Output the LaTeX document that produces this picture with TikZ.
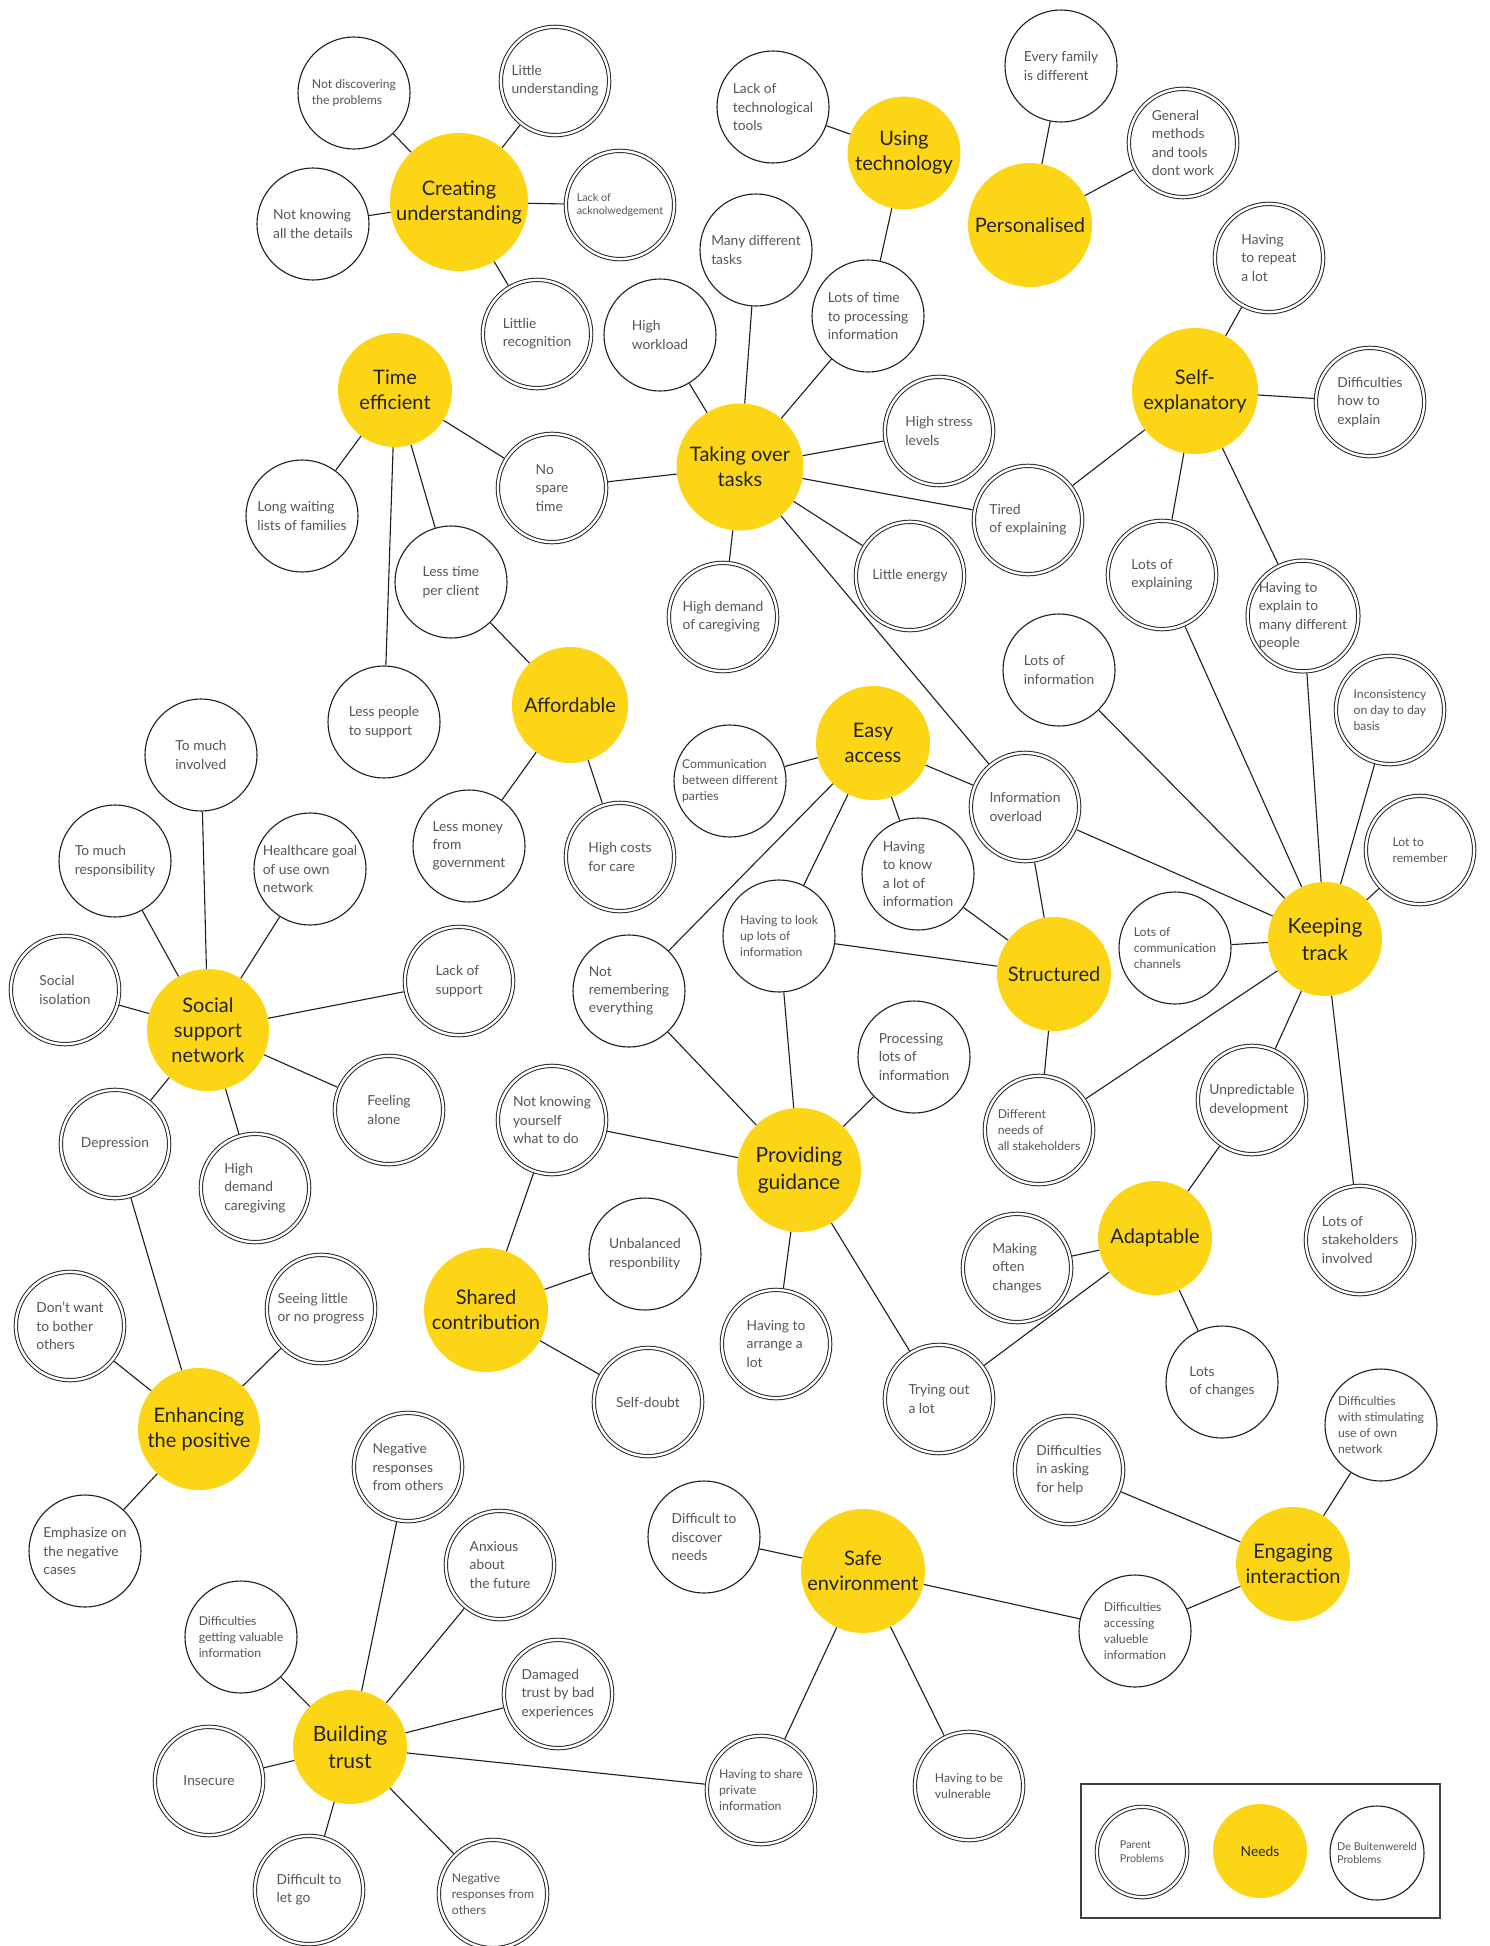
\documentclass[tikz,border=0pt]{standalone}
\usepackage{fontspec}
\setmainfont{Lato}
\definecolor{needy}{RGB}{252,214,22}
\definecolor{txtg}{RGB}{85,85,85}
\definecolor{txtd}{RGB}{35,35,30}
\definecolor{linec}{RGB}{30,30,30}
\tikzset{
 pbase/.style={circle, inner sep=0pt, align=left, text=txtg, font=\fontsize{13.8}{18.3}\selectfont},
 pone/.style={pbase, draw=linec, line width=1.1pt, minimum size=112pt, outer sep=0.55pt},
 ptwo/.style={pbase, draw=linec, line width=0.95pt, double, double distance=2.4pt, minimum size=108.3pt, outer sep=2.2pt},
 need/.style={circle, inner sep=0pt, align=center, fill=needy, text=txtd, font=\fontsize{20}{25}\selectfont, minimum size=#1},
 bigt/.style={font=\fontsize{21}{27}\selectfont},
 sm/.style={font=\fontsize{12.2}{16.3}\selectfont},
 tn/.style={font=\fontsize{10.8}{13.8}\selectfont},
 conn/.style={draw=linec, line width=1.1pt},
}
\begin{document}
\begin{tikzpicture}[x=1pt,y=-1pt]
\fill[white] (0,0) rectangle (1489,1946);
\useasboundingbox (0,0) rectangle (1489,1946);

% Creating understanding
\node[need=138pt] (cu) at (459,202) {Creating\\understanding};
\node[pone,sm] (ndp) at (354,93) {Not discovering\\the problems};
\node[pone] (nkd) at (313,224) {Not knowing\\all the details};
\node[ptwo] (lu) at (555,81) {Little\\understanding};
\node[ptwo,tn] (lack) at (620,205) {Lack of\\acknolwedgement};
\node[ptwo] (lrec) at (537,334) {Littlie\\recognition};

% Using technology
\node[need=113pt] (ut) at (904,153) {Using\\technology};
\node[pone] (ltt) at (773,107) {Lack of\\technological\\tools};
\node[pone] (ltp) at (868,316) {Lots of time\\to processing\\information};

% Personalised
\node[need=124pt] (pers) at (1030,225) {Personalised};
\node[pone] (efd) at (1061,66) {Every family\\is different};
\node[ptwo] (gmt) at (1183,143) {General\\methods\\and tools\\dont work};

% Self-explanatory
\node[need=126pt] (se) at (1195,391) {Self-\\explanatory};
\node[ptwo] (hrl) at (1269,258) {Having\\to repeat\\a lot};
\node[ptwo] (dhe) at (1370,402) {Difficulties\\how to\\explain};
\node[ptwo] (toe) at (1028,520) {Tired\\of explaining};
\node[ptwo] (loe) at (1162,575) {Lots of\\explaining};
\node[ptwo] (hem) at (1303,616) {Having to\\explain to\\many different\\people};

% Taking over tasks
\node[need=127pt] (tot) at (740,467) {Taking over\\tasks};
\node[pone] (hw) at (660,335) {High\\workload};
\node[pone] (mdt) at (756,250) {Many different\\tasks};
\node[ptwo] (hsl) at (939,431) {High stress\\levels};
\node[ptwo] (le) at (910,576) {Little energy};
\node[ptwo] (hdc) at (723,617) {High demand\\of caregiving};
\node[ptwo] (nst) at (552,488) {No\\spare\\time};
\node[ptwo] (io) at (1025,807) {Information\\overload};

% Time efficient
\node[need=114pt] (te) at (395,390) {Time\\efficient};
\node[pone] (lwl) at (302,516) {Long waiting\\lists of families};
\node[pone] (lpc) at (451,582) {Less time\\per client};
\node[pone] (lps) at (384,722) {Less people\\to support};

% Affordable
\node[need=116pt] (aff) at (570,705) {Affordable};
\node[pone] (lmg) at (469,846) {Less money\\from\\government};
\node[ptwo] (hcc) at (620,857) {High costs\\for care};

% Easy access
\node[need=114pt] (ea) at (873,743) {Easy\\access};
\node[pone,sm] (cbp) at (730,781) {Communication\\between different\\parties};
\node[pone] (hkl) at (918,874) {Having\\to know\\a lot of\\information};
\node[pone,sm] (hlu) at (779,936) {Having to look\\up lots of\\information};
\node[pone] (nre) at (629,991) {Not\\remembering\\everything};

% Keeping track / Structured
\node[need=114pt,bigt] (kt) at (1325,939) {Keeping\\track};
\node[pone] (loi) at (1059,670) {Lots of\\information};
\node[ptwo,sm] (inc) at (1390,710) {Inconsistency\\on day to day\\basis};
\node[ptwo,sm] (ltr) at (1420,850) {Lot to\\remember};
\node[pone,sm] (lcc) at (1175,948) {Lots of\\communication\\channels};
\node[ptwo,sm] (dns) at (1039,1130) {Different\\needs of\\all stakeholders};
\node[ptwo] (upd) at (1252,1100) {Unpredictable\\development};
\node[ptwo] (lsi) at (1360,1240) {Lots of\\stakeholders\\involved};
\node[need=114pt] (st) at (1054,974) {Structured};

% Providing guidance
\node[need=124pt,bigt] (pg) at (799,1170) {Providing\\guidance};
\node[pone] (pli) at (914,1057) {Processing\\lots of\\information};
\node[ptwo] (nky) at (552,1120) {Not knowing\\yourself\\what to do};
\node[ptwo] (hal) at (776,1344) {Having to\\arrange a\\lot};
\node[ptwo] (tol) at (939,1399) {Trying out\\a lot};

% Social support network
\node[need=122pt] (ssn) at (208,1030) {Social\\support\\network};
\node[pone] (tmi) at (201,755) {To much\\involved};
\node[pone] (tmr) at (115,861) {To much\\responsibility};
\node[pone] (hgo) at (310,869) {Healthcare goal\\of use own\\network};
\node[ptwo] (sis) at (65,990) {Social\\isolation};
\node[ptwo] (los) at (459,981) {Lack of\\support};
\node[ptwo] (fa) at (389,1110) {Feeling\\alone};
\node[ptwo] (dep) at (115,1144) {Depression};
\node[ptwo] (hdc2) at (255,1188) {High\\demand\\caregiving};

% Enhancing the positive
\node[need=122pt] (ep) at (199,1429) {Enhancing\\the positive};
\node[ptwo] (dwb) at (70,1326) {Don’t want\\to bother\\others};
\node[ptwo] (slp) at (321,1309) {Seeing little\\or no progress};
\node[pone] (emn) at (85,1551) {Emphasize on\\the negative\\cases};

% Shared contribution
\node[need=124pt] (sc) at (486,1310) {Shared\\contribution};
\node[pone] (ubr) at (645,1254) {Unbalanced\\responbility};
\node[ptwo] (sd) at (648,1402) {Self-doubt};

% Adaptable
\node[need=114pt] (ad) at (1155,1238) {Adaptable};
\node[ptwo] (moc) at (1017,1268) {Making\\often\\changes};
\node[pone] (loc) at (1222,1382) {Lots\\of changes};

% Building trust
\node[need=114pt,bigt] (bt) at (350,1747) {Building\\trust};
\node[ptwo] (nro1) at (408,1467) {Negative\\responses\\from others};
\node[ptwo] (afu) at (500,1565) {Anxious\\about\\the future};
\node[pone,sm] (dgv) at (241,1637) {Difficulties\\getting valuable\\information};
\node[ptwo] (dtb) at (558,1694) {Damaged\\trust by bad\\experiences};
\node[ptwo] (ins) at (209,1781) {Insecure};
\node[ptwo] (dlg) at (309,1890) {Difficult to\\let go};
\node[ptwo,sm] (nro2) at (493,1894) {Negative\\responses from\\others};

% Safe environment
\node[need=124pt] (sfe) at (863,1571) {Safe\\environment};
\node[pone] (dtd) at (704,1537) {Difficult to\\discover\\needs};
\node[ptwo,sm] (hsp) at (761,1790) {Having to share\\private\\information};
\node[ptwo,sm] (hbv) at (969,1786) {Having to be\\vulnerable};

% Engaging interaction
\node[need=114pt] (ei) at (1293,1564) {Engaging\\interaction};
\node[ptwo] (dah) at (1069,1470) {Difficulties\\in asking\\for help};
\node[pone,sm] (dsu) at (1381,1425) {Difficulties\\with stimulating\\use of own\\network};
\node[pone,sm] (dav) at (1135,1631) {Difficulties\\accessing\\valueble\\information};

% connectors
\foreach \a/\b in {cu/ndp,cu/nkd,cu/lu,cu/lack,cu/lrec,
 ut/ltt,ut/ltp, pers/efd,pers/gmt,
 se/hrl,se/dhe,se/toe,se/loe,se/hem,
 tot/hw,tot/mdt,tot/ltp,tot/hsl,tot/toe,tot/le,tot/hdc,tot/nst,tot/io,
 te/nst,te/lwl,te/lps,te/lpc, aff/lpc,aff/lmg,aff/hcc,
 ea/cbp,ea/io,ea/hkl,ea/hlu,ea/nre,
 kt/loe,kt/hem,kt/loi,kt/inc,kt/ltr,kt/io,kt/lcc,kt/dns,kt/upd,kt/lsi,
 st/io,st/hkl,st/hlu,st/dns,
 pg/hlu,pg/nre,pg/pli,pg/nky,pg/hal,pg/tol,
 ssn/tmi,ssn/tmr,ssn/hgo,ssn/sis,ssn/los,ssn/fa,ssn/hdc2,ssn/dep,
 ep/dep,ep/dwb,ep/slp,ep/emn, sc/nky,sc/ubr,sc/sd,
 ad/upd,ad/moc,ad/loc,ad/tol,
 bt/nro1,bt/afu,bt/dgv,bt/dtb,bt/ins,bt/dlg,bt/nro2,bt/hsp,
 sfe/dtd,sfe/hsp,sfe/hbv,sfe/dav, ei/dah,ei/dsu,ei/dav}
 \draw[conn] (\a) -- (\b);

% legend
\node[draw=linec!85, line width=1.3pt, minimum width=359pt, minimum height=134pt, inner sep=0pt] (lgbox) at (1260.5,1851) {};
\node[ptwo,tn,minimum size=90.3pt] (lgp) at (1142,1852) {Parent\\Problems};
\node[need=94pt, font=\fontsize{13.8}{16}\selectfont] (lgn) at (1260,1851) {Needs};
\node[pone,tn,minimum size=94pt] (lgb) at (1377,1853) {De Buitenwereld\\Problems};
\end{tikzpicture}
\end{document}
